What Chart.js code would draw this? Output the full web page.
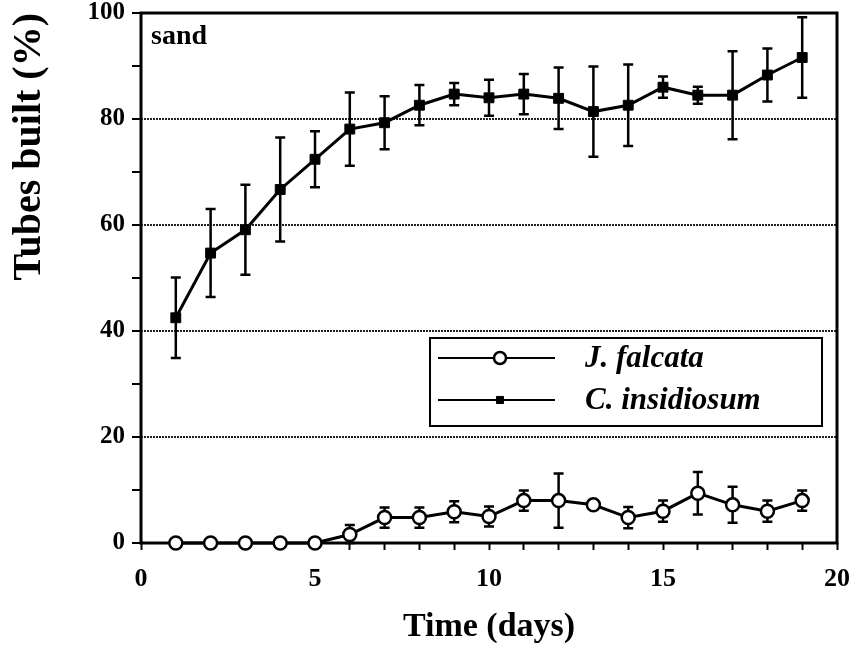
<!DOCTYPE html>
<html>
<head>
<meta charset="utf-8">
<script src="https://cdn.jsdelivr.net/npm/chart.js@4.4.1/dist/chart.umd.min.js"></script>
<style>
  html, body { margin: 0; padding: 0; background: #fff; }
</style>
</head>
<body>
<canvas id="chart" width="855" height="656"></canvas>
<script>
  // days of the experiment
  const days = [1, 2, 3, 4, 5, 6, 7, 8, 9, 10, 11, 12, 13, 14, 15, 16, 17, 18, 19];

  // J. falcata, mean % and error
  const falcata = [0, 0, 0, 0, 0, 1.6, 4.8, 4.8, 5.9, 5.0, 8.0, 8.0, 7.2, 4.8, 6.0, 9.4, 7.2, 6.0, 8.0];
  const falcataErr = [0, 0, 0, 0, 0, 1.8, 1.9, 1.9, 2.0, 1.9, 1.9, 5.1, 0, 2.0, 2.0, 4.0, 3.4, 2.0, 1.9];

  // C. insidiosum, mean % and error
  const insidiosum = [42.5, 54.7, 59.1, 66.7, 72.4, 78.1, 79.3, 82.6, 84.7, 84.0, 84.7, 83.9, 81.4, 82.6, 86.0, 84.5, 84.5, 88.3, 91.6];
  const insidiosumErr = [7.6, 8.3, 8.5, 9.8, 5.3, 6.9, 5.0, 3.8, 2.1, 3.4, 3.8, 5.8, 8.5, 7.7, 2.0, 1.6, 8.3, 5.0, 7.6];

  const yLabels = [0, 20, 40, 60, 80, 100];
  const xLabels = [0, 5, 10, 15, 20];
  const gridValues = [20, 40, 60, 80];

  const serif = "'Liberation Serif', 'Times New Roman', serif";

  function toPoints(values) {
    return days.map((d, i) => ({x: d, y: values[i]}));
  }

  // frame and error bars, drawn under the lines and markers
  const underlay = {
    id: 'underlay',
    beforeDatasetsDraw(chart) {
      const ctx = chart.ctx;
      const a = chart.chartArea;
      const xs = chart.scales.x, ys = chart.scales.y;
      ctx.save();
      ctx.strokeStyle = '#000';
      ctx.lineWidth = 3;
      ctx.strokeRect(a.left, a.top, a.right - a.left, a.bottom - a.top);

      ctx.lineWidth = 2.5;
      const sets = [[falcata, falcataErr], [insidiosum, insidiosumErr]];
      sets.forEach(function (s) {
        s[0].forEach(function (v, i) {
          const e = s[1][i];
          if (!e) return;
          const px = xs.getPixelForValue(days[i]);
          const top = ys.getPixelForValue(v + e);
          const bot = ys.getPixelForValue(Math.max(v - e, 0));
          ctx.beginPath();
          ctx.moveTo(px, top); ctx.lineTo(px, bot);
          ctx.moveTo(px - 5, top); ctx.lineTo(px + 5, top);
          ctx.moveTo(px - 5, bot); ctx.lineTo(px + 5, bot);
          ctx.stroke();
        });
      });

      ctx.fillStyle = '#000';
      ctx.font = 'bold 28px ' + serif;
      ctx.textBaseline = 'alphabetic';
      ctx.fillText('sand', a.left + 10, a.top + 31);
      ctx.restore();
    }
  };

  // boxed legend inside the plot
  const boxLegend = {
    id: 'boxLegend',
    afterDraw(chart) {
      const ctx = chart.ctx;
      const x0 = 430, y0 = 338, w = 392, h = 88;
      ctx.save();
      ctx.fillStyle = '#fff';
      ctx.fillRect(x0, y0, w, h);
      ctx.strokeStyle = '#000';
      ctx.lineWidth = 2;
      ctx.strokeRect(x0, y0, w, h);
      chart.data.datasets.forEach(function (ds, i) {
        const y = y0 + 20 + i * 42;
        ctx.strokeStyle = '#000';
        ctx.lineWidth = 2;
        ctx.beginPath();
        ctx.moveTo(x0 + 8, y); ctx.lineTo(x0 + 125, y);
        ctx.stroke();
        ctx.fillStyle = ds.pointBackgroundColor;
        ctx.lineWidth = ds.pointBorderWidth;
        Chart.helpers.drawPoint(ctx, {pointStyle: ds.pointStyle, radius: i === 0 ? 6 : 5, borderWidth: ds.pointBorderWidth}, x0 + 70, y);
        ctx.fillStyle = '#000';
        ctx.font = 'italic bold 31px ' + serif;
        ctx.textBaseline = 'middle';
        ctx.fillText(ds.label, x0 + 155, y + 1);
      });
      ctx.restore();
    }
  };

  new Chart(document.getElementById('chart'), {
    type: 'line',
    data: {
      datasets: [
        {
          label: 'J. falcata',
          data: toPoints(falcata),
          borderColor: '#000',
          borderWidth: 3,
          pointStyle: 'circle',
          pointRadius: 6.5,
          pointBorderWidth: 2.5,
          pointBackgroundColor: '#fff',
          pointBorderColor: '#000',
          clip: false,
          tension: 0
        },
        {
          label: 'C. insidiosum',
          data: toPoints(insidiosum),
          borderColor: '#000',
          borderWidth: 3,
          pointStyle: 'rect',
          pointRadius: 7,
          pointBorderWidth: 1,
          pointBackgroundColor: '#000',
          pointBorderColor: '#000',
          clip: false,
          tension: 0
        }
      ]
    },
    options: {
      responsive: false,
      animation: false,
      events: [],
      layout: {padding: {top: 13, right: 18, left: 0, bottom: 0}},
      plugins: {legend: {display: false}, tooltip: {enabled: false}},
      scales: {
        x: {
          type: 'linear',
          min: 0,
          max: 20,
          afterFit: function (scale) {
            scale.height = 113;
            scale.paddingLeft = 0;
            scale.paddingRight = 0;
          },
          ticks: {
            stepSize: 1,
            autoSkip: false,
            maxRotation: 0,
            padding: 14,
            color: '#000',
            font: {family: serif, weight: 'bold', size: 26},
            callback: function (v) { return xLabels.includes(v) ? String(v) : ''; }
          },
          grid: {
            drawOnChartArea: false,
            tickLength: 7,
            tickWidth: 2,
            tickColor: '#000'
          },
          border: {display: false},
          title: {
            display: true,
            text: 'Time (days)',
            color: '#000',
            font: {family: serif, weight: 'bold', size: 34},
            padding: {top: 0, bottom: 8}
          }
        },
        y: {
          min: 0,
          max: 100,
          afterFit: function (scale) {
            scale.width = 141;
            scale.paddingTop = 0;
            scale.paddingBottom = 0;
          },
          ticks: {
            stepSize: 10,
            padding: 7,
            color: '#000',
            font: {family: serif, weight: 'bold', size: 25},
            callback: function (v) { return yLabels.includes(v) ? String(v) : ''; }
          },
          grid: {
            color: function (c) { return gridValues.includes(c.tick.value) ? '#222' : 'rgba(0,0,0,0)'; },
            lineWidth: 2,
            tickLength: 9,
            tickWidth: 2,
            tickColor: '#000'
          },
          border: {display: false, dash: [2, 1]},
          title: {
            display: true,
            text: 'Tubes built (%)',
            align: 'end',
            color: '#000',
            font: {family: serif, weight: 'bold', size: 40},
            padding: {top: 6, bottom: 0}
          }
        }
      }
    },
    plugins: [underlay, boxLegend]
  });
</script>
</body>
</html>
